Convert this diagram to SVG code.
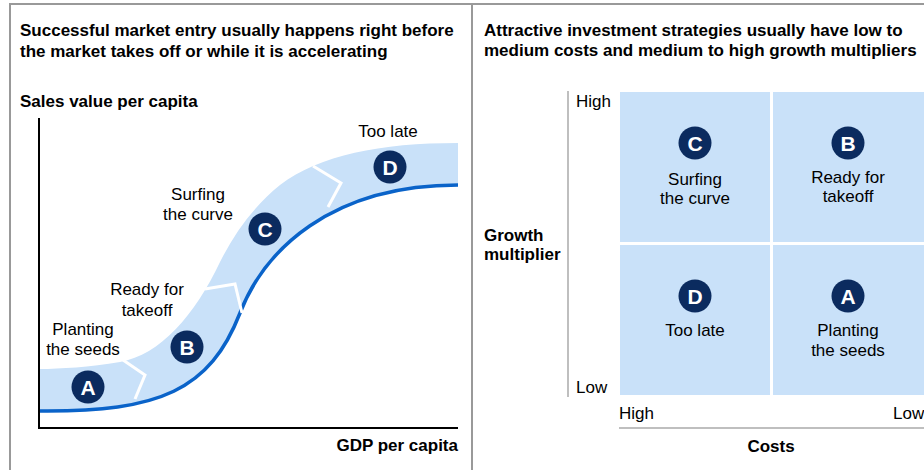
<svg xmlns="http://www.w3.org/2000/svg" width="924" height="470" viewBox="0 0 924 470">
<style>
.t{font-family:"Liberation Sans",Arial,sans-serif;fill:#000}
.b{font-weight:bold;font-size:17px}
.r{font-size:17px}
.c{text-anchor:middle}
.badge circle{fill:#0B2B5F}
.badge text{font-family:"Liberation Sans",Arial,sans-serif;font-weight:bold;font-size:21px;fill:#fff;text-anchor:middle}
.chev{fill:none;stroke:#fff;stroke-width:3;stroke-linejoin:miter}
.cell{fill:#C9E1F9}
</style>
<rect width="924" height="470" fill="#fff"/>
<g id="frame" stroke="#999" stroke-width="2" fill="none">
<line x1="9" y1="4" x2="924" y2="4"/>
<line x1="10" y1="4" x2="10" y2="470"/>
<line x1="472" y1="4" x2="472" y2="470"/>
</g>
<!-- Left panel -->
<g id="left-title">
<text class="t b" x="20" y="36">Successful market entry usually happens right before</text>
<text class="t b" x="20" y="57">the market takes off or while it is accelerating</text>
<text class="t b" x="20" y="107">Sales value per capita</text>
</g>
<g id="band">
<path d="M40,411 C160,412 210,390 240,313 C264,251 330,185 458,185 L458,143 C380,143 320,155 280,185 C255,205 235,232 220,262 C195,315 160,355 120,362 C90,367 60,369 40,369 Z" fill="#C9E1F9"/>
<path d="M40,411 C160,412 210,390 240,313 C264,251 330,185 458,185" fill="none" stroke="#0A63C9" stroke-width="3.5"/>
</g>
<g id="connectors">
<polyline class="chev" points="123,360 145,375 135,399"/>
<polyline class="chev" points="205,289 235,284 242,313"/>
<polyline class="chev" points="313,166 341,183 328,207"/>
</g>
<g id="axes-left" stroke="#000" stroke-width="2" fill="none">
<line x1="39" y1="118" x2="39" y2="428"/>
<line x1="38" y1="428" x2="458" y2="428"/>
</g>
<text class="t b" x="458" y="451" text-anchor="end">GDP per capita</text>
<g id="nodeA" class="badge"><circle cx="88" cy="387" r="16.5"/><text x="88" y="394.5">A</text></g>
<g id="nodeB" class="badge"><circle cx="187" cy="347" r="16.5"/><text x="187" y="354.5">B</text></g>
<g id="nodeC" class="badge"><circle cx="265" cy="229" r="16.5"/><text x="265" y="236.5">C</text></g>
<g id="nodeD" class="badge"><circle cx="390" cy="167" r="16.5"/><text x="390" y="174.5">D</text></g>
<g id="labels-left">
<text class="t r c" x="83" y="335">Planting</text>
<text class="t r c" x="83" y="355">the seeds</text>
<text class="t r c" x="147" y="295">Ready for</text>
<text class="t r c" x="147" y="316">takeoff</text>
<text class="t r c" x="198" y="200">Surfing</text>
<text class="t r c" x="198" y="220">the curve</text>
<text class="t r c" x="388" y="137">Too late</text>
</g>
<!-- Right panel -->
<g id="right-title">
<text class="t b" x="484" y="36">Attractive investment strategies usually have low to</text>
<text class="t b" x="484" y="56">medium costs and medium to high growth multipliers</text>
</g>
<g id="axes-right" stroke="#aaa" stroke-width="1.5" fill="none">
<line x1="568" y1="91" x2="568" y2="397"/>
<line x1="619" y1="428" x2="924" y2="428"/>
</g>
<text class="t b" x="484" y="241">Growth</text>
<text class="t b" x="484" y="260">multiplier</text>
<text class="t r" x="576" y="107">High</text>
<text class="t r" x="576" y="393">Low</text>
<text class="t r" x="619" y="419">High</text>
<text class="t r" x="893" y="419">Low</text>
<text class="t b c" x="771" y="452">Costs</text>
<g id="cellC">
<rect class="cell" x="620" y="92" width="150" height="150"/>
<g class="badge"><circle cx="695" cy="143" r="16.5"/><text x="695" y="150.5">C</text></g>
<text class="t r c" x="695" y="185">Surfing</text>
<text class="t r c" x="695" y="204">the curve</text>
</g>
<g id="cellB">
<rect class="cell" x="773" y="92" width="151" height="150"/>
<g class="badge"><circle cx="848" cy="143" r="16.5"/><text x="848" y="150.5">B</text></g>
<text class="t r c" x="848" y="182.5">Ready for</text>
<text class="t r c" x="848" y="201.5">takeoff</text>
</g>
<g id="cellD">
<rect class="cell" x="620" y="245" width="150" height="150"/>
<g class="badge"><circle cx="695" cy="296" r="16.5"/><text x="695" y="303.5">D</text></g>
<text class="t r c" x="695" y="336">Too late</text>
</g>
<g id="cellA">
<rect class="cell" x="773" y="245" width="151" height="150"/>
<g class="badge"><circle cx="848" cy="296" r="16.5"/><text x="848" y="303.5">A</text></g>
<text class="t r c" x="848" y="336">Planting</text>
<text class="t r c" x="848" y="356">the seeds</text>
</g>
</svg>
